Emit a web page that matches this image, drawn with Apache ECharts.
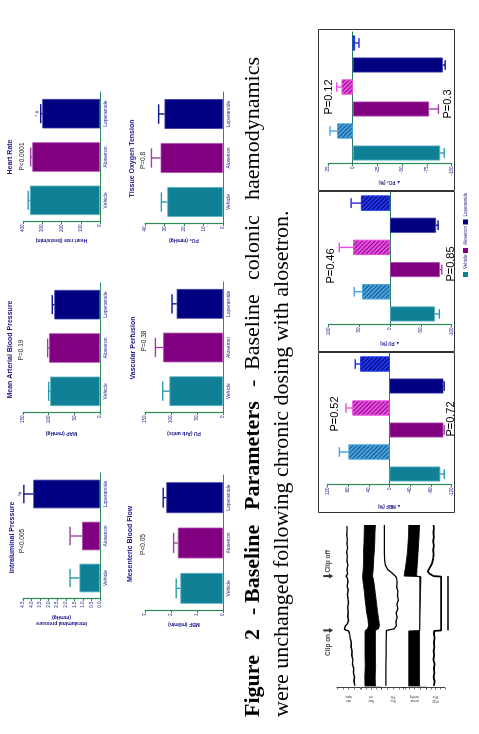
<!DOCTYPE html>
<html><head><meta charset="utf-8">
<script src="https://cdn.jsdelivr.net/npm/echarts@6/dist/echarts.min.js"></script>
<style>
html,body{margin:0;padding:0;background:#fff;overflow:hidden;width:479px;height:734px}
#wrap{position:absolute;left:0;top:0;width:734px;height:479px;transform-origin:0 0;transform:translate(0px,734px) rotate(-90deg)}
#chart{width:734px;height:479px}
</style></head>
<body><div id="wrap"><div id="chart"></div></div>
<script>
// ---------- DATA ----------
const groups = ['Vehicle', 'Alosetron', 'Loperamide'];
const intraMean = [1.2, 1.05, 3.9];   const intraErr = [0.55, 0.7, 0.55];
const mapMean = [97, 99, 89];         const mapErr = [3, 3, 4];
const hrMean = [364, 352, 300];       const hrErr = [9, 8, 8];
const mbfMean = [1.64, 1.74, 2.18];   const mbfErr = [0.16, 0.16, 0.12];
const puMean = [103, 115, 89];        const puErr = [13, 15, 9];
const po2Mean = [28.6, 32, 30];       const po2Err = [3, 4.7, 3];
const pctCats = ['Vehicle clip', 'Vehicle release', 'Alosetron clip', 'Alosetron release', 'Loperamide clip', 'Loperamide release'];
const mbfPct = [-98, 79, -104, 71.5, -104, 56.6];  const mbfPctErr = [7.7, 17.6, 1.5, 12.5, 1.5, 9.5];
const puPct = [-73, 45, -81, 59.6, -74.7, 47];     const puPctErr = [7, 13, 3, 22.7, 3.3, 16];
const po2Pct = [-88.4, 15.6, -77.2, 11.2, -91, -2.3]; const po2PctErr = [4, 7.4, 9.4, 5, 2.4, 4];
// traces (time in min, arbitrary signal units)
const tr1T = [0.2,0.6,1.0,1.4,1.8,2.2,2.6,3.0,3.4,3.8,4.2,4.6,5.0,5.25,5.4,5.55,5.7,5.9,6.2,6.6,7.0,7.4,7.8,8.2,8.6,9.0,9.4,9.8,10.1,10.3,10.5,10.9,11.3,11.7,12.1,12.5,12.9,13.3,13.7,14.1,14.5,14.9];
const tr1V = [22,26,24,29,27,33,31,36,35,39,38,43,45,50,68,76,64,55,50,53,51,54,50,52,55,51,56,52,55,60,54,57,53,57,55,58,54,57,55,58,56,57];
const tr2T = [0.15,1,2,3,4,5,5.3,5.45,5.76,6.4,7.0,7.6,8.2,8.8,9.4,10.0,10.3,10.7,11.2,12.0,12.7,13.5,14.3,15];
const tr2Hi = [80,81,79,80,80,80,79,67,62,66,72,76,80,83,87,91,92,90,88,87,87,85,84,83];
const tr2Lo = [28,29,27,28,28,28,28,12,8,12,17,21,25,29,33,38,42,40,38,36,33,31,30,28];
const tr3T = [0.2,1,2,3,4,5,5.3,5.45,5.7,6.1,6.5,6.9,7.3,7.7,8.1,8.5,8.9,9.3,9.7,10.1,10.3,10.6,10.9,11.3,11.8,12.5,13.5,14.5,15];
const tr3V = [80,80,80,79,79,78,77,45,36,38,33,37,30,34,28,32,30,35,33,35,40,55,72,82,85,86,86,86,86];
const tr4T = [0.15,1,2,3,4,5,5.25,5.3,10.25,10.3,10.6,11,11.6,12.3,13,14,15];
const tr4Hi = [75,75,75,75,75,75,75,27,27,95,93,90,86,82,79,76,75];
const tr4Lo = [28,28,28,28,28,28,28,22,22,41,40,39,37,35,33,30,28];
const tr5T = [0.2,0.6,1,1.4,1.8,2.2,2.6,3,3.4,3.8,4.2,4.6,5,5.25,5.3,10.25,10.3,10.5,10.7,10.9,11.2,11.5,11.9,12.3,12.7,13.1,13.5,13.9,14.3,14.7,15];
const tr5V = [58,55,60,56,59,55,61,57,60,56,59,55,58,57,20,20,60,80,90,86,76,68,62,60,63,59,62,58,61,59,60];
const traceNames = ['rate\nbpm', 'flow\nml', 'flux\nPU', 'press\nmmHg', 'PO2\nkPa'];
const clipOn = 5.3, clipOff = 10.3, scaleLen = 5;

// ---------- STYLE ----------
const green = '#2e8b57', navy = '#1c1c8a';
const solid = ['#0f8096', '#800080', '#000080'];
const solidEdge = ['#5fb3c3', '#b050b0', '#3a3aa8'];
const solidErr = ['#2c9bb0', '#a040a8', '#101090'];
const hatchBase = ['#45a4dc', '#ee4fe0', '#2038e8'];
const hatchLine = ['#1b4f8a', '#7a0a80', '#000070'];
const hatchErr = ['#4aa0ea', '#f24ae4', '#2424e0'];
const SANS = 'Liberation Sans';

const grids = [], xAxes = [], yAxes = [], series = [], graphics = [];

function errRender(colors) {
  return function (params, api) {
    const i = api.value(0), v = api.value(1), e = api.value(2);
    const s = v >= 0 ? 1 : -1;
    const a = api.coord([i, v]), b = api.coord([i, v + s * e]);
    const w = api.size([1, 0])[0] * 0.22;
    const st = { stroke: colors[i], lineWidth: 1.4 };
    return { type: 'group', children: [
      { type: 'line', shape: { x1: a[0], y1: a[1], x2: b[0], y2: b[1] }, style: st },
      { type: 'line', shape: { x1: b[0] - w, y1: b[1], x2: b[0] + w, y2: b[1] }, style: st }
    ]};
  };
}

function barPanel(box, vals, errs, max, interval, name, gap, dec, note) {
  const gi = grids.length;
  grids.push({ left: box[0], top: box[1], width: box[2], height: box[3] });
  xAxes.push({ gridIndex: gi, type: 'category', data: groups,
    axisLine: { lineStyle: { color: green, width: 1.2 } }, axisTick: { show: false },
    axisLabel: { color: navy, fontSize: 5, margin: 3, fontFamily: SANS } });
  yAxes.push({ gridIndex: gi, type: 'value', min: 0, max: max, interval: interval,
    name: name, nameLocation: 'middle', nameGap: gap,
    nameTextStyle: { fontSize: 5, fontWeight: 'bold', color: navy, fontFamily: SANS, lineHeight: 6 },
    axisLine: { show: true, lineStyle: { color: green, width: 1.2 } },
    axisTick: { show: true, length: 2, lineStyle: { color: green } },
    axisLabel: { fontSize: 4.5, color: navy, margin: 2.5, fontFamily: SANS, formatter: v => v.toFixed(dec) },
    splitLine: { show: false } });
  series.push({ type: 'bar', xAxisIndex: gi, yAxisIndex: gi, barWidth: '68%', silent: true,
    data: vals.map((v, i) => ({ value: v, itemStyle: { color: solid[i], borderColor: solidEdge[i], borderWidth: 0.8 } })) });
  series.push({ type: 'custom', xAxisIndex: gi, yAxisIndex: gi, renderItem: errRender(solidErr), silent: true,
    encode: { x: 0, y: 1 }, data: vals.map((v, i) => [i, v, errs[i]]), z: 3 });
  if (note) {
    series.push({ type: 'scatter', xAxisIndex: gi, yAxisIndex: gi, symbolSize: 0, silent: true,
      data: [[2, vals[2] + errs[2]]],
      label: { show: true, position: 'top', distance: 1, formatter: note, color: navy, fontSize: 5, fontFamily: SANS } });
  }
}

barPanel([135, 23, 126, 77], intraMean, intraErr, 4.5, 0.5, 'Intraluminal pressure\n(mmHg)', 15, 1, '*#');
barPanel([321, 23, 130, 77], mapMean, mapErr, 150, 50, 'MAP (mmHg)', 17, 0);
barPanel([512, 23, 130, 77], hrMean, hrErr, 400, 100, 'Heart rate (beats/min)', 15, 0, '* #');
barPanel([123, 145, 136, 78], mbfMean, mbfErr, 3, 1, 'MBF (ml/min)', 10, 0);
barPanel([321, 145, 131, 78], puMean, puErr, 150, 50, 'PU (Arb units)', 17, 0);
barPanel([510, 145, 132, 78], po2Mean, po2Err, 40, 10, 'PO\u2082 (mmHg)', 13, 0);

function pctPanel(box, vals, errs, min, max, interval, name, gap) {
  const gi = grids.length;
  grids.push({ left: box[0], top: box[1], width: box[2], height: box[3] });
  xAxes.push({ gridIndex: gi, type: 'category', data: pctCats,
    axisLine: { onZero: true, lineStyle: { color: '#2a7a5e', width: 1.2 } }, axisTick: { show: false }, axisLabel: { show: false } });
  yAxes.push({ gridIndex: gi, type: 'value', min: min, max: max, interval: interval,
    name: name, nameLocation: 'middle', nameGap: gap,
    nameTextStyle: { fontSize: 4.5, fontWeight: 'bold', color: navy, fontFamily: SANS },
    axisLine: { show: true, lineStyle: { color: green, width: 1.2 } },
    axisTick: { show: true, length: 2, lineStyle: { color: green } },
    axisLabel: { fontSize: 4.5, color: navy, margin: 2.5, fontFamily: SANS },
    splitLine: { show: false } });
  groups.forEach((g, k) => {
    series.push({ type: 'bar', name: g, stack: 'p' + gi, xAxisIndex: gi, yAxisIndex: gi, barWidth: '68%', silent: true,
      itemStyle: { color: solid[k] },
      data: vals.map((v, i) => {
        if (Math.floor(i / 2) !== k) return '-';
        if (i % 2 === 0) return { value: v, itemStyle: { color: solid[k], borderColor: solidEdge[k], borderWidth: 0.8 } };
        return { value: v, itemStyle: { color: hatchBase[k], borderColor: hatchBase[k], borderWidth: 0.8,
          decal: { symbol: 'rect', symbolSize: 1, dashArrayX: [1, 0], dashArrayY: [1, 1.4], rotation: Math.PI / 4, color: hatchLine[k] } } };
      }) });
  });
  const ec = vals.map((v, i) => (i % 2 === 0 ? solidErr : hatchErr)[Math.floor(i / 2)]);
  series.push({ type: 'custom', xAxisIndex: gi, yAxisIndex: gi, renderItem: errRender(ec), silent: true,
    encode: { x: 0, y: 1 }, data: vals.map((v, i) => [i, v, errs[i]]), z: 3 });
}
pctPanel([249, 327.3, 132, 124.4], mbfPct, mbfPctErr, -120, 120, 40, '\u25B2 MBF (%)', 19);
pctPanel([409, 328.3, 133, 123.4], puPct, puPctErr, -100, 100, 50, '\u25B2 PU (%)', 15);
pctPanel([570, 328, 132, 123.7], po2Pct, po2PctErr, -100, 25, 25, '\u25B2 PO\u2082 (%)', 15);

// ---------- TRACES ----------
function traceGrid(top, h, name) {
  const gi = grids.length;
  grids.push({ left: 46, top: top, width: 163, height: h });
  xAxes.push({ gridIndex: gi, type: 'value', min: 0, max: 15, show: false });
  yAxes.push({ gridIndex: gi, type: 'value', min: 0, max: 100, interval: 25,
    name: name, nameLocation: 'middle', nameGap: 7,
    nameTextStyle: { fontSize: 3.2, color: '#222', fontFamily: SANS, lineHeight: 4 },
    axisLine: { show: true, lineStyle: { color: '#111', width: 0.8 } },
    axisTick: { show: true, length: 1.5, lineStyle: { color: '#111', width: 0.6 } },
    axisLabel: { show: false }, splitLine: { show: false } });
  return gi;
}
function lineS(gi, t, v, w, extra) {
  return Object.assign({ type: 'line', xAxisIndex: gi, yAxisIndex: gi, showSymbol: false, silent: true,
    lineStyle: { color: '#000', width: w }, data: t.map((x, i) => [x, v[i]]) }, extra || {});
}
let g;
g = traceGrid(337, 23, traceNames[0]); series.push(lineS(g, tr1T, tr1V, 1.4));
g = traceGrid(361, 20, traceNames[1]);
series.push(lineS(g, tr2T, tr2Hi, 0.8, { areaStyle: { color: '#000', opacity: 1 } }));
series.push(lineS(g, tr2T, tr2Lo, 0.8, { areaStyle: { color: '#fff', opacity: 1 }, z: 3 }));
g = traceGrid(381, 24, traceNames[2]); series.push(lineS(g, tr3T, tr3V, 1.3));
g = traceGrid(403, 23, traceNames[3]);
series.push(lineS(g, tr4T, tr4Hi, 0.8, { areaStyle: { color: '#000', opacity: 1 } }));
series.push(lineS(g, tr4T, tr4Lo, 0.8, { areaStyle: { color: '#fff', opacity: 1 }, z: 3 }));
g = traceGrid(426, 19, traceNames[4]); series.push(lineS(g, tr5T, tr5V, 1.8));
// scale bar
g = grids.length;
grids.push({ left: 46, top: 444, width: 163, height: 8 });
xAxes.push({ gridIndex: g, type: 'value', min: 0, max: 15, show: false });
yAxes.push({ gridIndex: g, type: 'value', min: 0, max: 1, show: false });
series.push({ type: 'line', xAxisIndex: g, yAxisIndex: g, showSymbol: false, silent: true, lineStyle: { color: '#000', width: 1.6 },
  data: [[clipOn, 0.5], { value: [(clipOn + clipOff) / 2, 0.5], symbol: 'none', label: { show: true, position: 'bottom', distance: 5, formatter: String(scaleLen), fontSize: 6, color: '#222', fontFamily: SANS } }, [clipOff, 0.5]],
  label: { show: false } });
// clip arrows
g = grids.length;
grids.push({ left: 46, top: 322, width: 163, height: 14 });
xAxes.push({ gridIndex: g, type: 'value', min: 0, max: 15, show: false });
yAxes.push({ gridIndex: g, type: 'value', min: 0, max: 1, show: false });
series.push({ type: 'scatter', xAxisIndex: g, yAxisIndex: g, silent: true,
  symbol: 'path://M3,0 L7,0 L7,9 L10,9 L5,16 L0,9 L3,9 Z', symbolSize: [5, 10], itemStyle: { color: '#000' },
  label: { show: true, fontSize: 6.5, fontWeight: 'bold', color: '#111', fontFamily: SANS, distance: 1 },
  data: [{ value: [clipOn, 0.55], label: { position: 'left', formatter: 'Clip on' } },
         { value: [clipOff, 0.55], label: { position: 'right', formatter: 'Clip off' } }] });

// ---------- TEXT ----------
function txt(x, y, s, size, opt) {
  graphics.push({ type: 'text', x: x, y: y, silent: true,
    style: Object.assign({ text: s, fontSize: size, fontFamily: SANS, fill: '#222', align: 'center', verticalAlign: 'middle' }, opt || {}) });
}
const tOpt = { fontWeight: 'bold', fill: navy };
txt(196.5, 12.5, 'Intraluminal Pressure', 7, tOpt); txt(193, 22.5, 'P<0.005', 6.5);
txt(384.5, 10.5, 'Mean Arterial Blood Pressure', 7, tOpt); txt(384, 21, 'P=0.19', 6.5);
txt(577, 10.5, 'Heart Rate', 7, tOpt); txt(577.5, 22, 'P<0.0001', 6.5);
txt(190, 130.5, 'Mesenteric Blood Flow', 7, tOpt); txt(189.5, 143, 'P<0.05', 6.5);
txt(386, 133.5, 'Vascular Perfusion', 7, tOpt); txt(393, 144, 'P=0.38', 6.5);
txt(575.5, 132.5, 'Tissue Oxygen Tension', 7, tOpt); txt(573.5, 143.5, 'P=0.8', 6.5);
const pBig = { fill: '#000' };
txt(320, 335, 'P=0.52', 11, pBig); txt(315, 451, 'P=0.72', 11, pBig);
txt(468, 331, 'P=0.46', 11, pBig); txt(470, 451, 'P=0.85', 11, pBig);
txt(637, 329, 'P=0.12', 11, pBig); txt(630, 448, 'P=0.3', 11, pBig);
// panel boxes
[[221, 318, 160, 136], [382, 318, 160, 136], [543, 318, 161, 136]].forEach(b => graphics.push({ type: 'rect', silent: true,
  shape: { x: b[0] + 0.5, y: b[1] + 0.5, width: b[2], height: b[3] }, style: { fill: 'none', stroke: '#333', lineWidth: 1 } }));
// caption
const SERIF = 'Liberation Serif';
const line1 = [['Figure', 17, 1], ['2', 94, 1], ['-', 119, 1], ['Baseline', 131, 1], ['Parameters', 224, 1], ['-', 347, 0], ['Baseline', 364, 0], ['colonic', 454, 0], ['haemodynamics', 534, 0]];
line1.forEach(w => txt(w[1], 253, w[0], 22, { fontFamily: SERIF, fontWeight: w[2] ? 'bold' : 'normal', fill: '#000', align: 'left' }));
txt(17, 282, 'were unchanged following chronic dosing with alosetron.', 22, { fontFamily: SERIF, fill: '#000', align: 'left' });

const chart = echarts.init(document.getElementById('chart'), null, { renderer: 'canvas' });
chart.setOption({
  animation: false,
  backgroundColor: '#fff',
  grid: grids, xAxis: xAxes, yAxis: yAxes, series: series,
  legend: { orient: 'vertical', left: 452, top: 458, itemWidth: 5, itemHeight: 5, itemGap: 1.5, icon: 'rect',
    data: groups, selectedMode: false, textStyle: { fontSize: 4.5, color: navy, fontFamily: SANS, padding: [0, 0, 0, -2] } },
  graphic: graphics
});
</script></body></html>
